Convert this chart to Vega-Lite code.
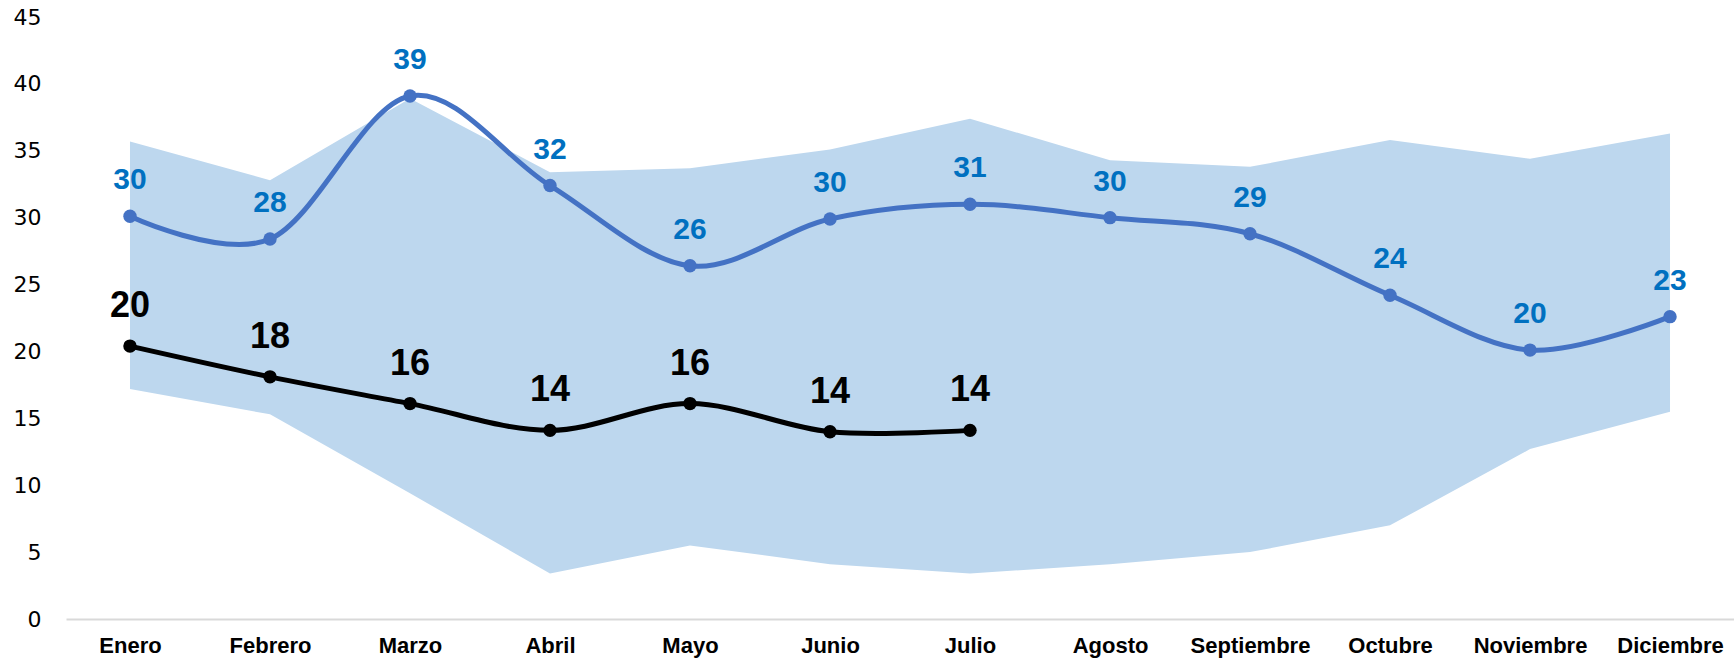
{
  "$schema": "https://vega.github.io/schema/vega-lite/v6.json",
  "width": 1668,
  "height": 602,
  "autosize": "none",
  "padding": {"left": 66, "top": 17, "right": 0, "bottom": 45},
  "background": "white",
  "config": {"view": {"stroke": null}},
  "data": {
    "values": [
      {"mes": "Enero", "azul": 30.1, "negro": 20.4, "min": 17.2, "max": 35.7},
      {"mes": "Febrero", "azul": 28.4, "negro": 18.1, "min": 15.3, "max": 32.8},
      {"mes": "Marzo", "azul": 39.1, "negro": 16.1, "min": 9.4, "max": 38.9},
      {"mes": "Abril", "azul": 32.4, "negro": 14.1, "min": 3.4, "max": 33.4},
      {"mes": "Mayo", "azul": 26.4, "negro": 16.1, "min": 5.5, "max": 33.7},
      {"mes": "Junio", "azul": 29.9, "negro": 14.0, "min": 4.1, "max": 35.1},
      {"mes": "Julio", "azul": 31.0, "negro": 14.1, "min": 3.4, "max": 37.4},
      {"mes": "Agosto", "azul": 30.0, "negro": null, "min": 4.1, "max": 34.3},
      {"mes": "Septiembre", "azul": 28.8, "negro": null, "min": 5.0, "max": 33.8},
      {"mes": "Octubre", "azul": 24.2, "negro": null, "min": 7.0, "max": 35.8},
      {"mes": "Noviembre", "azul": 20.1, "negro": null, "min": 12.7, "max": 34.4},
      {"mes": "Diciembre", "azul": 22.6, "negro": null, "min": 15.5, "max": 36.3}
    ]
  },
  "encoding": {
    "x": {
      "field": "mes",
      "type": "ordinal",
      "sort": null,
      "scale": {"type": "point", "padding": 0.457},
      "axis": {
        "title": null,
        "labelAngle": 0,
        "domainColor": "#D9D9D9",
        "domainWidth": 2,
        "ticks": false,
        "labelFont": "Liberation Sans",
        "labelFontSize": 22,
        "labelFontWeight": "bold",
        "labelColor": "#000000",
        "labelPadding": 16
      }
    }
  },
  "layer": [
    {
      "mark": {"type": "area", "color": "#BDD7EE", "opacity": 1, "interpolate": "linear"},
      "encoding": {
        "y": {
          "field": "min",
          "type": "quantitative",
          "scale": {"domain": [0, 45], "nice": false},
          "axis": {
            "title": null,
            "values": [0, 5, 10, 15, 20, 25, 30, 35, 40, 45],
            "grid": false,
            "domain": false,
            "ticks": false,
            "labelFont": "DejaVu Sans",
            "labelFontSize": 22,
            "labelColor": "#000000",
            "labelPadding": 25
          }
        },
        "y2": {"field": "max"}
      }
    },
    {
      "mark": {"type": "line", "color": "#4472C4", "strokeWidth": 5, "interpolate": "cardinal",
        "point": {"filled": true, "color": "#4472C4", "size": 180, "opacity": 1}},
      "encoding": {"y": {"field": "azul", "type": "quantitative"}}
    },
    {
      "mark": {"type": "text", "color": "#0070C0", "font": "Liberation Sans", "fontSize": 30, "fontWeight": "bold", "dy": -36, "baseline": "middle"},
      "encoding": {
        "y": {"field": "azul", "type": "quantitative"},
        "text": {"field": "azul", "type": "quantitative", "format": ".0f"}
      }
    },
    {
      "transform": [{"filter": "datum.negro != null"}],
      "mark": {"type": "line", "color": "#000000", "strokeWidth": 5, "interpolate": "cardinal",
        "point": {"filled": true, "color": "#000000", "size": 180, "opacity": 1}},
      "encoding": {"y": {"field": "negro", "type": "quantitative"}}
    },
    {
      "transform": [{"filter": "datum.negro != null"}],
      "mark": {"type": "text", "color": "#000000", "font": "Liberation Sans", "fontSize": 36, "fontWeight": "bold", "dy": -40, "baseline": "middle"},
      "encoding": {
        "y": {"field": "negro", "type": "quantitative"},
        "text": {"field": "negro", "type": "quantitative", "format": ".0f"}
      }
    }
  ]
}
